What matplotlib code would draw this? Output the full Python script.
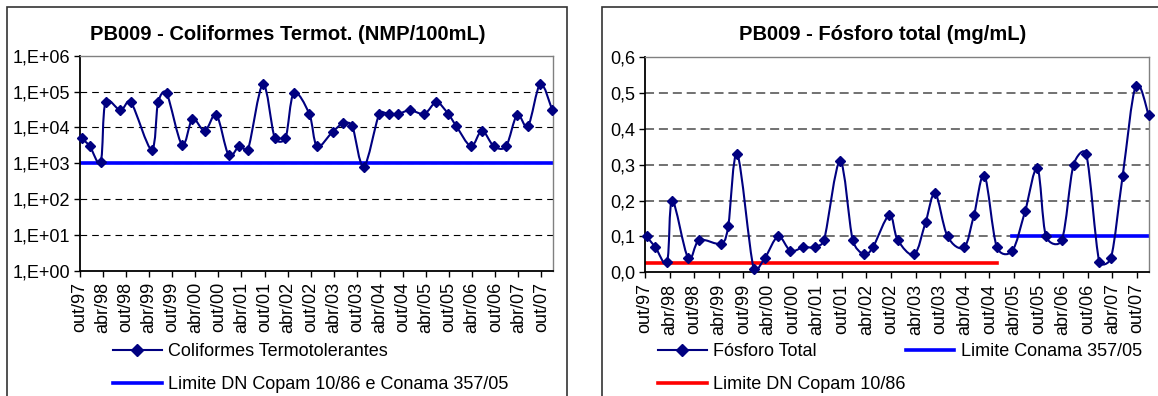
import numpy as np
import pandas as pd
import matplotlib
matplotlib.use("Agg")
import matplotlib.pyplot as plt
import matplotlib.dates as mdates
from matplotlib.path import Path
from matplotlib.patches import PathPatch, Rectangle
from matplotlib.lines import Line2D
from matplotlib.ticker import FixedLocator, FuncFormatter

plt.rcParams["font.family"] = ["Liberation Sans", "DejaVu Sans"]

# sampling dates (shared by both series)
dates = ["1997-10-13", "1997-12-17", "1998-03-14", "1998-04-21", "1998-08-17",
         "1998-11-08", "1999-04-21", "1999-06-11", "1999-08-17", "1999-12-17",
         "2000-03-09", "2000-06-15", "2000-09-15", "2000-12-20", "2001-03-14",
         "2001-05-22", "2001-09-18", "2001-12-21", "2002-03-15", "2002-05-20",
         "2002-09-19", "2002-11-20", "2003-03-23", "2003-06-15", "2003-08-25",
         "2003-11-25", "2004-03-27", "2004-06-08", "2004-08-25", "2004-11-25",
         "2005-03-19", "2005-06-22", "2005-09-22", "2005-11-25", "2006-03-22",
         "2006-06-17", "2006-09-19", "2006-12-25", "2007-03-22", "2007-06-17",
         "2007-09-22", "2007-12-26"]

coliformes = [5000, 3000, 1100, 50000, 30000, 50000, 2400, 50000, 90000, 3300,
              17000, 8000, 22000, 1700, 3000, 2400, 160000, 5000, 5000, 90000,
              24000, 3000, 7500, 13000, 11000, 800, 24000, 24000, 24000, 30000,
              24000, 50000, 24000, 11000, 3000, 8000, 3000, 3000, 22000, 11000,
              160000, 30000]

fosforo = [0.10, 0.07, 0.03, 0.20, 0.04, 0.09, 0.08, 0.13, 0.33, 0.01,
           0.04, 0.10, 0.06, 0.07, 0.07, 0.09, 0.31, 0.09, 0.05, 0.07,
           0.16, 0.09, 0.05, 0.14, 0.22, 0.10, 0.07, 0.16, 0.27, 0.07,
           0.06, 0.17, 0.29, 0.10, 0.09, 0.30, 0.33, 0.03, 0.04, 0.27,
           0.52, 0.44]

# limits: value and period of validity
limite_coli = 1000
limite_coli_periodo = ("1997-10-01", "2007-12-26")
limite_copam = 0.025
limite_copam_periodo = ("1997-10-01", "2004-11-25")
limite_conama = 0.1
limite_conama_periodo = ("2005-03-19", "2007-12-26")

tick_labels = ["out/97", "abr/98", "out/98", "abr/99", "out/99", "abr/00",
               "out/00", "abr/01", "out/01", "abr/02", "out/02", "abr/03",
               "out/03", "abr/04", "out/04", "abr/05", "out/05", "abr/06",
               "out/06", "abr/07", "out/07"]

NAVY = "#000080"
W, H = 1158, 396
FS = 13


def smooth_path(x, y, sx, sy):
    """Excel-like smoothed line: Catmull-Rom Beziers, control arms capped
    at half the neighbouring segment (distances measured in pixels)."""
    n = len(x)
    P = np.column_stack([x, y]).astype(float)
    S = np.array([sx, sy])

    def plen(v):
        return np.hypot(*(v * S))

    arms_out, arms_in = [], []
    for i in range(n):
        a, b = max(i - 1, 0), min(i + 1, n - 1)
        T = P[b] - P[a]
        lt = plen(T)
        if lt == 0:
            arms_out.append(np.zeros(2))
            arms_in.append(np.zeros(2))
            continue
        fo = min(1 / 6, 0.5 * plen(P[b] - P[i]) / lt)
        fi = min(1 / 6, 0.5 * plen(P[i] - P[a]) / lt)
        arms_out.append(T * fo)
        arms_in.append(T * fi)
    verts = [P[0]]
    codes = [Path.MOVETO]
    for i in range(n - 1):
        verts += [P[i] + arms_out[i], P[i + 1] - arms_in[i + 1], P[i + 1]]
        codes += [Path.CURVE4] * 3
    return np.array(verts), codes


def px_axes(fig, x0, x1, top, bottom):
    return fig.add_axes([x0 / W, (H - bottom) / H, (x1 - x0) / W, (bottom - top) / H])


def style_axes(ax, grid_color, grid_lw, dashes):
    for s in ("top", "right"):
        ax.spines[s].set_color("#808080")
        ax.spines[s].set_linewidth(1.0)
    for s in ("left", "bottom"):
        ax.spines[s].set_color("black")
        ax.spines[s].set_linewidth(1.3)
    lo, hi = ax.get_ylim()
    for v in ax.get_yticks():
        if lo < v < hi:
            ax.axhline(v, color=grid_color, lw=grid_lw, ls=(0, dashes), zorder=0.5)
    ax.tick_params(axis="both", direction="out", length=4, width=1.0,
                   labelsize=FS, pad=3)
    ax.tick_params(axis="x", rotation=90, pad=4)
    ax.minorticks_off()


x = mdates.date2num(pd.to_datetime(dates))
tick_pos = mdates.date2num(pd.date_range("1997-10-01", "2007-10-01", freq="6MS"))
xmin = mdates.date2num(pd.Timestamp("1997-10-01"))

fig = plt.figure(figsize=(W / 100, H / 100), dpi=100)

# chart frames
fig.patches.append(Rectangle((7 / W, -0.05), (567 - 7) / W, (H - 7) / H + 0.05,
                             transform=fig.transFigure, fill=False,
                             ec="#333333", lw=1.2))
fig.patches.append(Rectangle((602 / W, -0.05), 0.5, (H - 7) / H + 0.05,
                             transform=fig.transFigure, fill=False,
                             ec="#333333", lw=1.2))

# ---- left: coliformes
L = (80, 552.7, 55.7, 270.7)
ax1 = px_axes(fig, *L)
ax1.set_yscale("log")
ax1.set_ylim(1, 1e6)
xmax1 = x[-1] + 3
ax1.set_xlim(xmin, xmax1)
ax1.yaxis.set_major_locator(FixedLocator([10.0 ** k for k in range(7)]))
ax1.yaxis.set_major_formatter(FuncFormatter(lambda v, p: "1,E+%02d" % round(np.log10(v))))
ax1.xaxis.set_major_locator(FixedLocator(tick_pos))
ax1.set_xticklabels(tick_labels)

ax1.plot(pd.to_datetime(list(limite_coli_periodo)).map(mdates.date2num),
         [limite_coli] * 2, color="#0000FF", lw=2.6, zorder=2)
sx = (L[1] - L[0]) / (xmax1 - xmin)
sy = (L[3] - L[2]) / 6.0
v, c = smooth_path(x, np.log10(coliformes), sx, sy)
v[:, 1] = 10 ** v[:, 1]
ax1.add_patch(PathPatch(Path(v, c), fill=False, ec=NAVY, lw=1.5, zorder=3))
ax1.plot(x, coliformes, ls="none", marker="D", ms=5.5, color=NAVY, zorder=4,
         clip_on=False)
style_axes(ax1, "black", 0.8, (6, 4.5))

h1 = [Line2D([], [], color=NAVY, lw=1.5, marker="D", ms=6.5),
      Line2D([], [], color="#0000FF", lw=2.6)]
fig.legend(h1, ["Coliformes Termotolerantes",
                "Limite DN Copam 10/86 e Conama 357/05"],
           loc="upper left", bbox_to_anchor=(113 / W, (H - 343) / H),
           frameon=False, fontsize=FS, handlelength=2.7, handletextpad=0.35,
           labelspacing=0.9, borderaxespad=0, borderpad=0)

fig.text(288 / W, (H - 35) / H, "PB009 - Coliformes Termot. (NMP/100mL)",
         ha="center", va="center", fontsize=14.5, fontweight="bold")

# ---- right: fosforo
R = (645, 1148.7, 57.3, 272.3)
ax2 = px_axes(fig, *R)
ax2.set_ylim(0, 0.6)
xmax2 = x[-1] + 1
ax2.set_xlim(xmin, xmax2)
ax2.yaxis.set_major_locator(FixedLocator(np.arange(0, 0.61, 0.1)))
ax2.yaxis.set_major_formatter(FuncFormatter(lambda v, p: ("%.1f" % v).replace(".", ",")))
ax2.xaxis.set_major_locator(FixedLocator(tick_pos))
ax2.set_xticklabels(tick_labels)

ax2.plot(pd.to_datetime(list(limite_copam_periodo)).map(mdates.date2num),
         [limite_copam] * 2, color="#FF0000", lw=2.6, zorder=2)
ax2.plot(pd.to_datetime(list(limite_conama_periodo)).map(mdates.date2num),
         [limite_conama] * 2, color="#0000FF", lw=2.6, zorder=2)
sx = (R[1] - R[0]) / (xmax2 - xmin)
sy = (R[3] - R[2]) / 0.6
v, c = smooth_path(x, np.array(fosforo), sx, sy)
ax2.add_patch(PathPatch(Path(v, c), fill=False, ec=NAVY, lw=1.5, zorder=3))
ax2.plot(x, fosforo, ls="none", marker="D", ms=5.5, color=NAVY, zorder=4,
         clip_on=False)
style_axes(ax2, "#666666", 1.3, (5, 2.7))

h2 = [Line2D([], [], color=NAVY, lw=1.5, marker="D", ms=6.5),
      Line2D([], [], color="#FF0000", lw=2.6),
      Line2D([], [], color="#0000FF", lw=2.6)]
fig.legend(h2, ["Fósforo Total", "Limite DN Copam 10/86", "Limite Conama 357/05"],
           ncol=2, loc="upper left", bbox_to_anchor=(658 / W, (H - 343) / H),
           frameon=False, fontsize=FS, handlelength=2.7, handletextpad=0.35,
           labelspacing=0.9, columnspacing=0.0, borderaxespad=0, borderpad=0)

fig.text(883 / W, (H - 35) / H, "PB009 - Fósforo total (mg/mL)",
         ha="center", va="center", fontsize=14.5, fontweight="bold")

fig.savefig("out.png", dpi=100)
